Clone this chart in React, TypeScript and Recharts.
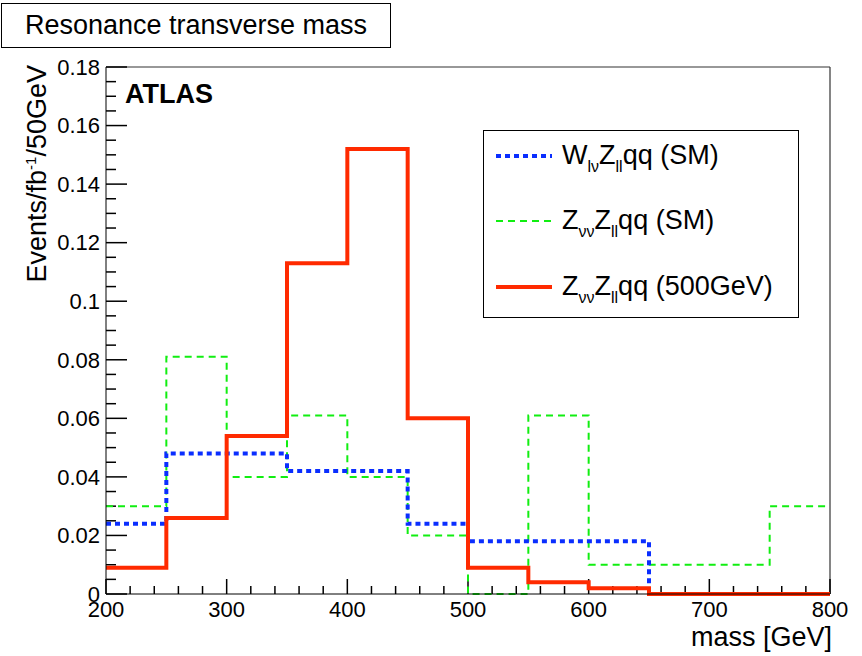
import { ComposedChart, Line, XAxis, YAxis, ReferenceLine } from "recharts"

// bin edges (GeV), 50 GeV bins
const edges = [200, 250, 300, 350, 400, 450, 500, 550, 600, 650, 700, 750, 800]

// bin contents (events / fb^-1 / 50 GeV), one per bin
const wlvZllqq = [0.024, 0.048, 0.048, 0.042, 0.042, 0.024, 0.018, 0.018, 0.018, 0, 0, 0]
const zvvZllqq = [0.030, 0.081, 0.040, 0.061, 0.040, 0.020, 0, 0.061, 0.010, 0.010, 0.010, 0.030]
const zvvZllqq500 = [0.009, 0.026, 0.054, 0.113, 0.152, 0.060, 0.009, 0.004, 0.002, 0, 0, 0]

const xMajor = [200, 300, 400, 500, 600, 700, 800]
const yMajor = [0, 0.02, 0.04, 0.06, 0.08, 0.1, 0.12, 0.14, 0.16, 0.18]
const xTicks = Array.from({ length: 31 }, (_, i) => 200 + i * 20)
const yTicks = Array.from({ length: 37 }, (_, i) => Math.round(i * 5) / 1000)

// stepAfter needs the last value repeated at the upper edge
const data = edges.map((x, i) => {
    const k = Math.min(i, wlvZllqq.length - 1)
    return { x, wlv: wlvZllqq[k], zvv: zvvZllqq[k], sig: zvvZllqq500[k] }
})

const W = 862
const H = 656
const margin = { top: 67, right: 32, bottom: 32, left: 46 }
const plotW = 724
const plotH = 527
const X0 = 200, X1 = 800, Y0 = 0, Y1 = 0.18

// ROOT-style inward ticks, lengths in px converted to data units
const xTickLen = (px: number) => (px / plotH) * (Y1 - Y0)
const yTickLen = (px: number) => (px / plotW) * (X1 - X0)

const font = "'Liberation Sans', Arial, Helvetica, sans-serif"
const tickFont = { fontSize: 22, fontFamily: font, fill: "#000" }

function Sample({ color, width, dash }: { color: string; width: number; dash?: string }) {
    return (
        <svg width={56} height={10} style={{ marginRight: 10 }}>
            <line x1={0} x2={56} y1={5} y2={5} stroke={color} strokeWidth={width} strokeDasharray={dash} />
        </svg>
    )
}

const sub = { fontSize: 16, position: "relative" as const, top: 8 }

export default function App() {
    return (
        <div style={{ position: "absolute", left: 0, top: 0, width: W, height: H, background: "#fff", fontFamily: font }}>
            <ComposedChart width={W} height={H} data={data} margin={margin}>
                <XAxis
                    dataKey="x"
                    type="number"
                    domain={[X0, X1]}
                    ticks={xMajor}
                    interval={0}
                    tick={tickFont}
                    tickLine={false}
                    tickSize={0}
                    tickMargin={7}
                    height={30}
                    stroke="#000"
                />
                <YAxis
                    type="number"
                    domain={[Y0, Y1]}
                    ticks={yMajor}
                    interval={0}
                    tick={tickFont}
                    tickFormatter={(v: number) => String(+v.toFixed(3))}
                    tickLine={false}
                    tickSize={0}
                    tickMargin={6}
                    width={60}
                    stroke="#000"
                />
                {/* top and right frame */}
                <ReferenceLine y={Y1} stroke="#333" strokeWidth={1.2} />
                <ReferenceLine x={X1} stroke="#333" strokeWidth={1.2} />
                {xTicks.map((v) => (
                    <ReferenceLine
                        key={"xt" + v}
                        segment={[{ x: v, y: Y0 }, { x: v, y: Y0 + xTickLen(v % 100 === 0 ? 15 : 8) }]}
                        stroke="#000"
                        strokeWidth={1.5}
                    />
                ))}
                {yTicks.map((v) => (
                    <ReferenceLine
                        key={"yt" + v}
                        segment={[{ x: X0, y: v }, { x: X0 + yTickLen(Math.round(v * 1000) % 20 === 0 ? 21 : 10), y: v }]}
                        stroke="#000"
                        strokeWidth={1.5}
                    />
                ))}
                <Line dataKey="zvv" type="stepAfter" stroke="#11ee11" strokeWidth={2} strokeDasharray="7 5" dot={false} isAnimationActive={false} />
                <Line dataKey="wlv" type="stepAfter" stroke="#0a2eff" strokeWidth={4} strokeDasharray="5 4" dot={false} isAnimationActive={false} />
                <Line dataKey="sig" type="stepAfter" stroke="#ff2a00" strokeWidth={4} dot={false} isAnimationActive={false} />
            </ComposedChart>

            {/* title box */}
            <div style={{ position: "absolute", left: 1, top: 3, width: 388, height: 43, border: "1.5px solid #000", background: "#fff", fontSize: 27, lineHeight: "43px", textAlign: "center" }}>
                Resonance transverse mass
            </div>

            <div style={{ position: "absolute", left: 125, top: 79, fontSize: 27, fontWeight: "bold" }}>ATLAS</div>

            {/* y title */}
            <div style={{ position: "absolute", left: 34, top: 62, width: 0, height: 0 }}>
                <div style={{ position: "absolute", right: 0, top: -15, whiteSpace: "nowrap", fontSize: 27, lineHeight: "30px", transform: "rotate(-90deg)", transformOrigin: "right center" }}>
                    Events/fb<sup style={{ fontSize: 15 }}>-1</sup>/50GeV
                </div>
            </div>

            <div style={{ position: "absolute", right: 30, top: 622, fontSize: 27 }}>mass [GeV]</div>

            {/* legend */}
            <div style={{ position: "absolute", left: 483, top: 130, width: 314, height: 186, border: "1.5px solid #000", background: "#fff", fontSize: 27 }}>
                <div style={{ position: "absolute", left: 12, top: 9, display: "flex", alignItems: "center" }}>
                    <Sample color="#0a2eff" width={4} dash="5 4" />
                    <span>W<span style={sub}>lν</span>Z<span style={sub}>ll</span>qq (SM)</span>
                </div>
                <div style={{ position: "absolute", left: 12, top: 74, display: "flex", alignItems: "center" }}>
                    <Sample color="#11ee11" width={2} dash="7 5" />
                    <span>Z<span style={sub}>νν</span>Z<span style={sub}>ll</span>qq (SM)</span>
                </div>
                <div style={{ position: "absolute", left: 12, top: 140, display: "flex", alignItems: "center" }}>
                    <Sample color="#ff2a00" width={4} />
                    <span>Z<span style={sub}>νν</span>Z<span style={sub}>ll</span>qq (500GeV)</span>
                </div>
            </div>
        </div>
    )
}
